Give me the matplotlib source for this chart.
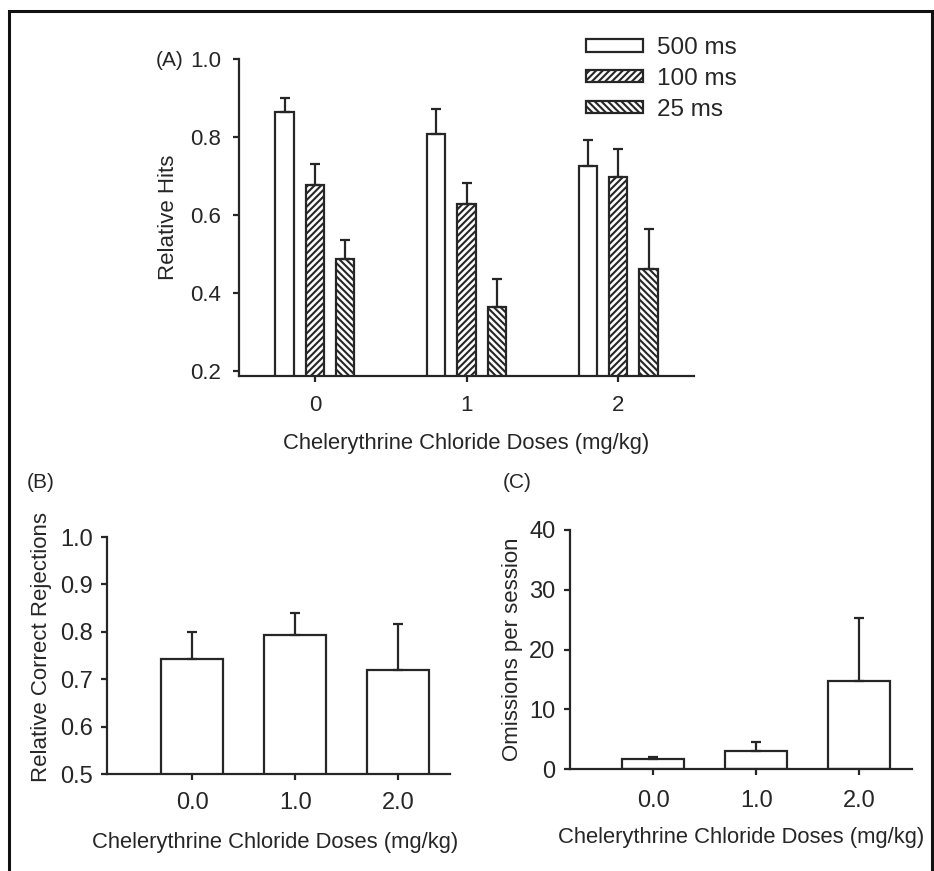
import numpy as np
import matplotlib
matplotlib.use("Agg")
import matplotlib.pyplot as plt
from matplotlib.patches import Patch, Rectangle

plt.rcParams['font.family'] = ['Liberation Sans', 'DejaVu Sans']
plt.rcParams['hatch.linewidth'] = 1.5

# ---- data ----
doses_a = ['0', '1', '2']
durations = ['500 ms', '100 ms', '25 ms']
hits_500 = [0.864, 0.808, 0.725]
hits_500_err = [0.036, 0.064, 0.066]
hits_100 = [0.677, 0.629, 0.697]
hits_100_err = [0.054, 0.053, 0.073]
hits_25 = [0.486, 0.363, 0.462]
hits_25_err = [0.051, 0.073, 0.102]

doses_bc = ['0.0', '1.0', '2.0']
rejections = [0.743, 0.794, 0.720]
rejections_err = [0.056, 0.046, 0.096]
omissions = [1.6, 3.0, 14.7]
omissions_err = [0.35, 1.6, 10.5]

W, H = 934, 871
INK = '#262626'
fig = plt.figure(figsize=(W / 100, H / 100), dpi=100)


def px_axes(x0, y0, x1, y1):
    # pixel box (top-left origin) -> figure axes
    return fig.add_axes([x0 / W, (H - y1) / H, (x1 - x0) / W, (y1 - y0) / H])


def style(ax, size, ypad, xpad):
    for s in ['top', 'right']:
        ax.spines[s].set_visible(False)
    for s in ['left', 'bottom']:
        ax.spines[s].set_linewidth(1.6)
        ax.spines[s].set_color(INK)
    ax.tick_params(axis='y', direction='out', length=4, width=1.6, colors=INK,
                   labelsize=size, pad=ypad)
    ax.tick_params(axis='x', direction='out', length=4, width=1.6, colors=INK,
                   labelsize=size, pad=xpad)


def labels(ax, xtext, ytext, xpos, ypos):
    ax.set_xlabel(xtext, fontsize=15.8, color=INK, va='center')
    ax.xaxis.set_label_coords(*xpos)
    ax.set_ylabel(ytext, fontsize=16, color=INK, va='center')
    ax.yaxis.set_label_coords(*ypos)


def bars(ax, x, vals, errs, width, hatch):
    ax.bar(x, vals, width, color='white', edgecolor=INK, linewidth=1.6,
           hatch=hatch, zorder=2)
    ax.errorbar(x, vals, yerr=[np.zeros(len(errs)), errs], fmt='none',
                ecolor=INK, elinewidth=1.6, capsize=3.5, capthick=1.6, zorder=3)


xlab = 'Chelerythrine Chloride Doses (mg/kg)'

# ---- panel A ----
axA = px_axes(239, 59, 694, 376)
x = np.arange(len(doses_a))
bars(axA, x - 0.2, hits_500, hits_500_err, 0.12, None)
bars(axA, x, hits_100, hits_100_err, 0.12, '/////')
bars(axA, x + 0.2, hits_25, hits_25_err, 0.12, '\\\\\\\\\\')
axA.set_xlim(-0.5, 2.5)
axA.set_ylim(0.187, 1.0)
axA.set_yticks([0.2, 0.4, 0.6, 0.8, 1.0])
axA.set_xticks(x)
axA.set_xticklabels(doses_a)
style(axA, 16, 9, 10)
labels(axA, xlab, 'Relative Hits', (0.5, -0.2145), (-0.154, 0.5))

handles = [Patch(facecolor='white', edgecolor=INK, linewidth=1.6, hatch=h)
           for h in [None, '/////', '\\\\\\\\\\']]
fig.legend(handles, durations, loc='upper left', bbox_to_anchor=(586 / W, (H - 37) / H),
           frameon=False, fontsize=17.5, handlelength=2.35, handleheight=0.42,
           handletextpad=0.58, labelspacing=0.36, borderpad=0, borderaxespad=0,
           labelcolor=INK)

# ---- panel B ----
axB = px_axes(107, 537, 450, 774)
xb = np.arange(len(doses_bc))
bars(axB, xb, rejections, rejections_err, 0.6, None)
axB.set_xlim(-0.825, 2.5)
axB.set_ylim(0.5, 1.0)
axB.set_yticks([0.5, 0.6, 0.7, 0.8, 0.9, 1.0])
axB.set_xticks(xb)
axB.set_xticklabels(doses_bc)
style(axB, 17, 6, 9)
labels(axB, xlab, 'Relative Correct Rejections', (0.49, -0.287), (-0.19, 0.536))

# ---- panel C ----
axC = px_axes(570, 530, 912, 769)
bars(axC, xb, omissions, omissions_err, 0.6, None)
axC.set_xlim(-0.806, 2.51)
axC.set_ylim(0, 40)
axC.set_yticks([0, 10, 20, 30, 40])
axC.set_xticks(xb)
axC.set_xticklabels(doses_bc)
style(axC, 17, 6.5, 11)
labels(axC, xlab, 'Omissions per session', (0.5, -0.285), (-0.167, 0.502))

# panel letters
for lx, ly, txt in [(170, 60, '(A)'), (41, 482, '(B)'), (517, 482, '(C)')]:
    fig.text(lx / W, (H - ly) / H, txt, fontsize=15, color=INK, ha='center', va='center')

# outer frame (open at the bottom, as in the scan)
fig.patches.append(Rectangle((9 / W, -0.05), 923 / W, (H - 11) / H + 0.05,
                             transform=fig.transFigure, fill=False,
                             edgecolor='#111111', linewidth=2.2))

fig.savefig('out.png', dpi=100)
